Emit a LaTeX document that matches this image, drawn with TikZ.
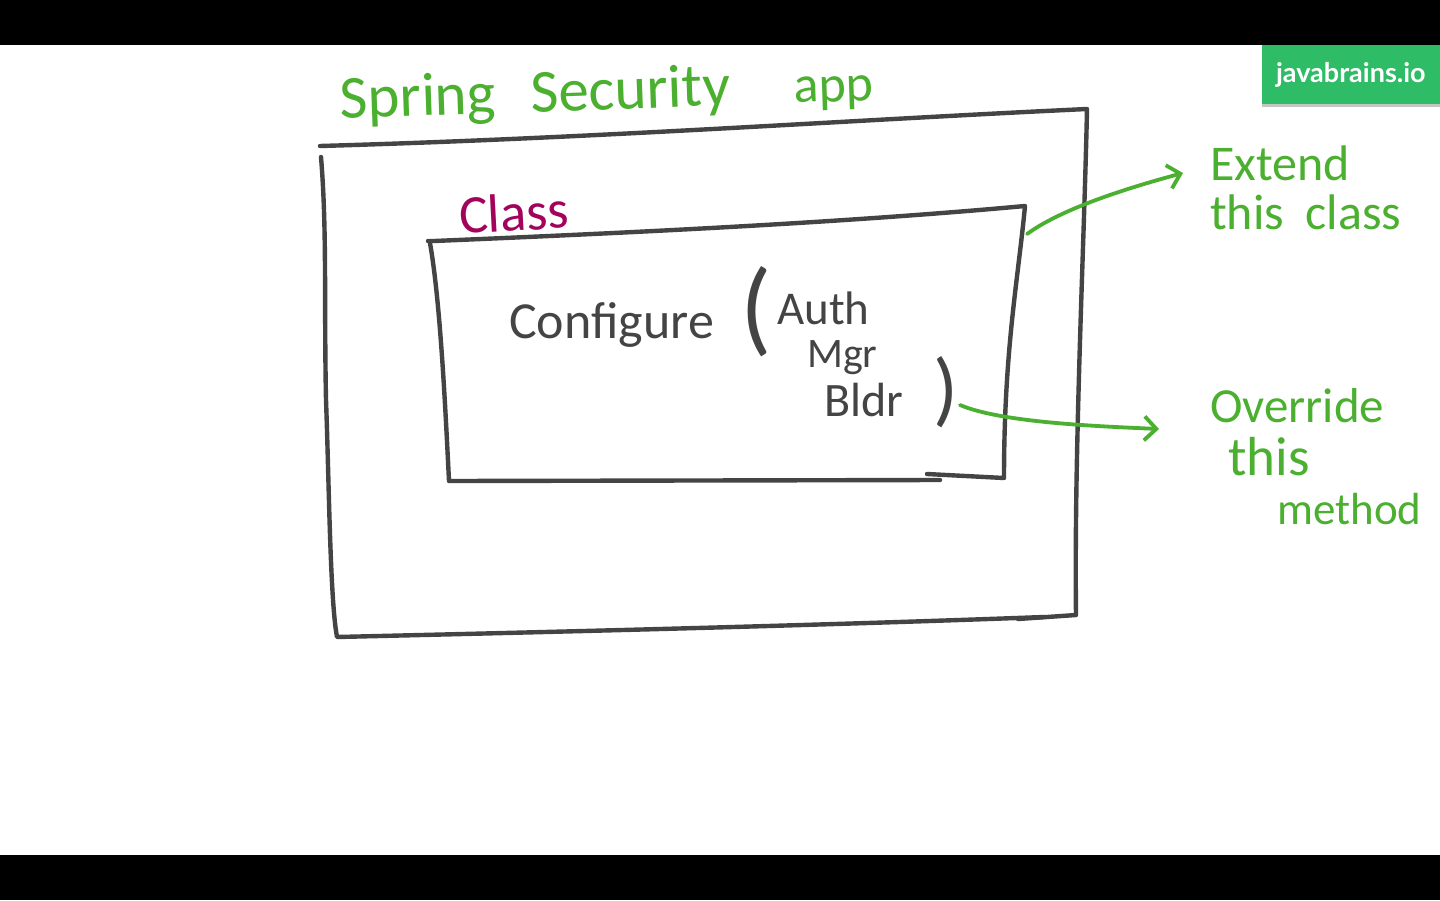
\documentclass[tikz,border=0pt]{standalone}
\usepackage{fontspec}
\setmainfont{Carlito}
\newfontfamily\badgefont{Lato}
\usetikzlibrary{positioning,arrows.meta,shadows}
\definecolor{inkgreen}{HTML}{4BAF2F}
\definecolor{inkgray}{HTML}{444444}
\definecolor{inkred}{HTML}{A2045C}
\definecolor{badgegreen}{HTML}{2FBC66}

\begin{document}
\begin{tikzpicture}[x=1pt, y=-1pt,
  sketch/.style={draw=inkgray, line width=4.4pt, line cap=round, line join=round},
  pointer/.style={draw=inkgreen, line width=3.8pt, line cap=round, -{Straight Barb[length=12pt,width=24pt,line width=3.8pt]}},
  note/.style={text=inkgreen, inner sep=0pt, anchor=west, font=\fontsize{#1}{#1}\selectfont},
  note/.default=50,
  word/.style={text=inkgray, inner sep=0pt, font=\fontsize{#1}{#1}\selectfont}]

\useasboundingbox (0,0) rectangle (1440,900);
\fill[white] (0,0) rectangle (1440,900);
\fill[black] (0,0) rectangle (1440,45);
\fill[black] (0,855) rectangle (1440,900);

% BADGE

\node [fill=badgegreen, text=white, minimum width=178pt, minimum height=59pt, inner sep=0pt, anchor=north east, drop shadow={shadow xshift=0pt, shadow yshift=-3pt, opacity=0.45}, font=\badgefont\bfseries\fontsize{27}{27}\selectfont] (badge) at (1440,45) {javabrains.io};

% OUTER BOX

\draw [sketch] (320,146) .. controls (600,138) and (850,120) .. (1087,109)
  .. controls (1084,250) and (1074,450) .. (1076,615) -- (1018,619);
\draw [sketch] (1044,617) .. controls (800,626) and (550,632) .. (337,637)
  .. controls (330,600) and (329,480) .. (326,400) .. controls (324,300) and (327,230) .. (321,157);

\node [note=61, rotate=2] (titulo-app) at (340,103) {Spring\hspace{21pt} Security\hspace{50pt} {\fontsize{52}{52}\selectfont app}};

% CLASS BOX

\draw [sketch] (428,241) -- (434,241) .. controls (650,232) and (850,222) .. (1025,206)
  .. controls (1018,280) and (1004,350) .. (1004,478) -- (927,474);
\draw [sketch] (940,480) -- (449,481) .. controls (445,400) and (440,300) .. (430,243);

\node [note=54, text=inkred, rotate=3] (titulo-class) at (459,215) {Class};

\node [word=52, anchor=west] (configure) at (509,325) {Configure};
\node [word=104, anchor=center] (paren-open) at (756,312) {(};
\node [word=47, anchor=west] (auth) at (777,308) {Auth};
\node [word=42, anchor=west] (mgr) at (807,358) {Mgr};
\node [word=48, anchor=west] (bldr) at (824,400) {Bldr};
\node [word=82, anchor=center] (paren-close) at (946,392) {)};

% NOTES

\node [note] (extend) at (1210,163) {Extend};
\node [note, below=14pt of extend.south west, anchor=north west] (extend-class) {this\hspace{10pt} class};

\node [note=49] (override) at (1210,406) {Override};
\node [note=55, below=14pt of override.south west, xshift=18pt, anchor=north west] (override-this) {this};
\node [note=45, below=17pt of override-this.south west, xshift=49pt, anchor=north west] (override-method) {method};

% ARROWS

\coordinate (class-edge) at (1027,234);
\coordinate (bldr-edge) at (960,405);
\coordinate (extend-tip) at (1183,173);
\coordinate (override-tip) at (1159,429);

\draw [pointer] (class-edge) .. controls (1060,210) and (1120,190) .. (extend-tip);
\draw [pointer] (bldr-edge) .. controls (1000,422) and (1090,426) .. (override-tip);

\end{tikzpicture}
\end{document}
